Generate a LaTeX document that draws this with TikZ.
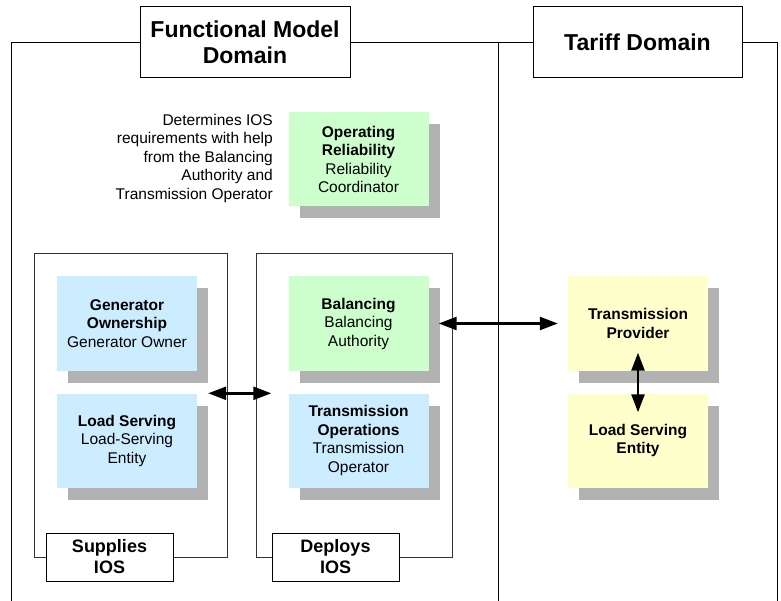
\documentclass[tikz,border=0pt]{standalone}
\usepackage{fontspec}
\setmainfont{Liberation Sans}
\usetikzlibrary{arrows.meta,shadows}
\definecolor{relgreen}{HTML}{CCFFCC}
\definecolor{opblue}{HTML}{CCECFF}
\definecolor{tarifyellow}{HTML}{FFFFCC}
\begin{document}
\begin{tikzpicture}[x=1pt,y=-1pt,
  func/.style={shape=rectangle,minimum width=140pt,minimum height=94pt,inner sep=0pt,align=center,font=\fontsize{15.5}{18.5}\selectfont,drop shadow={shadow xshift=11pt,shadow yshift=-12pt,fill=black!30,opacity=1}},
  funcG/.style={func,fill=relgreen},
  funcB/.style={func,fill=opblue},
  funcY/.style={func,fill=tarifyellow},
  domainbox/.style={shape=rectangle,draw=black,fill=white,line width=1pt,minimum width=210pt,minimum height=71pt,align=center,font=\fontsize{23}{26}\selectfont\bfseries},
  rolebox/.style={shape=rectangle,draw=black,fill=white,line width=1pt,minimum width=127pt,minimum height=48pt,align=center,font=\fontsize{18}{21}\selectfont\bfseries},
  link/.style={line width=2.5pt,{Triangle[length=18pt,width=13pt]}-{Triangle[length=18pt,width=13pt]}}]
\def\ya{323.5};
\def\yb{440.5};
\def\xa{127};
\def\xb{358.5};
\def\xc{638};

\useasboundingbox (0,0) rectangle (781,601);

% domain frames
\draw[line width=1pt] (11,601) -- (11,43) -- (498,43) -- (498,601);
\draw[line width=1pt] (498,43) -- (777,43) -- (777,601);
\node[domainbox] (FMD) at (245,42.5) {Functional Model\\Domain};
\node[domainbox,minimum width=209pt] (TD) at (637.5,42.5) {Tariff Domain};

% supplies / deploys frames
\draw[line width=1pt,draw=black!80] (34,254) rectangle (227,557);
\draw[line width=1pt,draw=black!80] (256,254) rectangle (452,557);
\node[rolebox] (SUP) at (109.5,557) {Supplies\\IOS};
\node[rolebox] (DEP) at (335.5,557) {Deploys\\IOS};

\node[funcG] (OR) at (\xb,159.5) {\textbf{Operating}\\\textbf{Reliability}\\Reliability\\Coordinator};
\node[anchor=east,align=right,inner sep=0pt,font=\fontsize{15.5}{18.5}\selectfont] (NOTE) at (273,158) {Determines IOS\\requirements with help\\from the Balancing\\Authority and\\Transmission Operator};

\node[funcB] (GO) at (\xa,\ya) {\textbf{Generator}\\\textbf{Ownership}\\Generator Owner};
\node[funcB] (LS) at (\xa,\yb) {\textbf{Load Serving}\\Load-Serving\\Entity};
\node[funcG] (BA) at (\xb,\ya) {\textbf{Balancing}\\Balancing\\Authority};
\node[funcB] (TO) at (\xb,\yb) {\textbf{Transmission}\\\textbf{Operations}\\Transmission\\Operator};
\node[funcY] (TP) at (\xc,\ya) {\textbf{Transmission}\\\textbf{Provider}};
\node[funcY] (LSE) at (\xc,\yb) {\textbf{Load Serving}\\\textbf{Entity}};

\draw[link] ([xshift=11pt]LS.north east) -- ([xshift=-17pt]TO.north west);
\draw[link] ([xshift=10pt]BA.east) -- ([xshift=-10pt]TP.west);
\draw[link] ([yshift=18pt]TP.south) -- ([yshift=-19pt]LSE.north);
\end{tikzpicture}
\end{document}
